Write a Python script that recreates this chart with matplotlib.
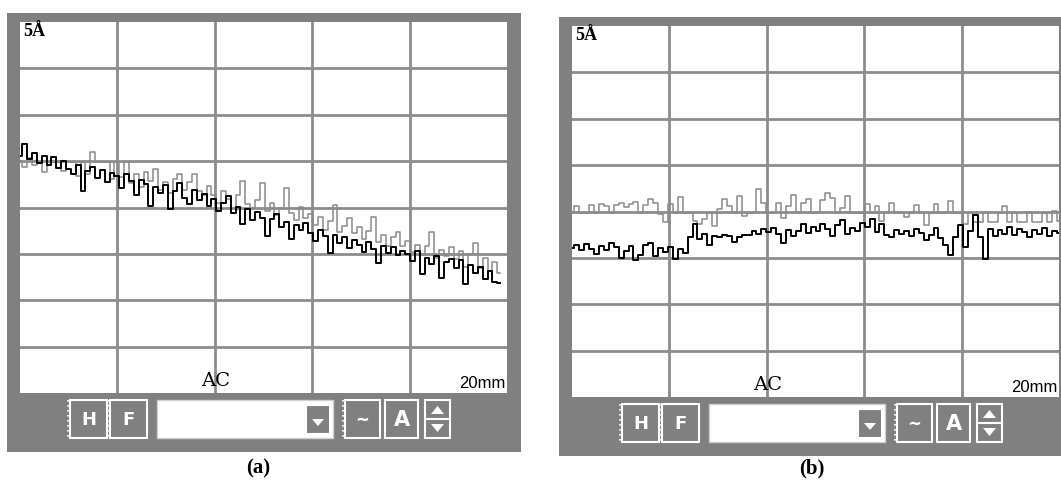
import matplotlib
matplotlib.use('Agg')
import matplotlib.pyplot as plt
from matplotlib.patches import Rectangle, Polygon
import numpy as np

# Canvas size in pixels (dpi 100).
W, H = 1061, 493

# Screen scale: 5 columns x 8 rows, y in Angstrom (5 per row), x in scan units.
X_MAX = 20
Y_MAX = 40

# Panel (a): profile sloping downwards, trace ends before the right edge.
a_x_end = 19.7
a_black = [25.6, 26.8, 25.2, 25.9, 24.8, 25.5, 24.6, 25.4, 24.3, 25.0,
           24.2, 23.6, 24.6, 21.8, 23.9, 24.4, 23.2, 24.0, 22.8, 23.7,
           23.4, 22.1, 23.6, 22.9, 21.4, 23.0, 22.5, 20.2, 22.2, 21.6,
           22.4, 19.8, 21.8, 22.6, 21.0, 20.4, 21.9, 20.8, 21.5, 20.2,
           20.9, 19.6, 20.5, 21.2, 19.4, 20.1, 18.2, 19.8, 18.6, 19.5,
           18.9, 16.9, 18.8, 19.3, 17.9, 18.4, 16.6, 18.1, 17.6, 18.3,
           17.3, 16.4, 17.6, 16.9, 15.1, 17.0, 16.2, 16.8, 15.6, 16.5,
           16.0, 15.2, 16.3, 15.5, 14.0, 15.9, 15.1, 15.7, 14.9, 15.3,
           15.0, 14.2, 15.3, 12.8, 14.6, 13.9, 14.8, 12.4, 14.1, 14.4,
           13.5, 14.3, 11.8, 13.8, 12.9, 13.6, 12.3, 13.1, 12.0, 11.9]
a_gray = [25.0, 24.4, 25.3, 24.6, 24.9, 23.8, 24.9, 24.9, 24.9, 23.9,
          24.9, 24.9, 23.4, 24.9, 23.6, 26.0, 24.9, 24.9, 24.9, 23.1,
          24.9, 23.3, 24.9, 22.6, 23.6, 22.2, 23.8, 22.9, 24.1, 21.9,
          22.8, 21.6, 23.1, 23.6, 21.9, 22.7, 23.6, 21.8, 21.4, 22.3,
          21.4, 20.5, 21.8, 20.9, 20.0, 21.3, 22.9, 20.4, 19.9, 20.8,
          22.6, 19.6, 20.5, 19.2, 19.9, 22.1, 19.4, 18.7, 20.1, 18.9,
          19.3, 18.1, 19.0, 17.6, 18.5, 20.3, 17.4, 18.0, 18.9, 17.2,
          17.9, 16.6, 17.5, 19.0, 16.3, 17.0, 15.9, 16.8, 17.4, 15.9,
          16.4, 15.2, 16.0, 14.9, 15.9, 17.4, 14.6, 15.4, 14.8, 15.7,
          14.4, 15.3, 13.6, 15.0, 16.2, 13.5, 14.6, 13.2, 14.1, 12.9]

# Panel (b): flat profile across the whole scan.
b_x_end = 20.0
b_black = [16.1, 16.4, 15.9, 16.5, 16.0, 15.4, 16.3, 15.8, 16.6, 16.2,
           15.0, 15.7, 16.3, 14.8, 15.3, 16.4, 16.6, 15.2, 16.1, 15.6,
           16.2, 14.9, 16.0, 15.5, 17.2, 18.6, 17.0, 17.6, 16.4, 17.4,
           17.2, 17.5, 17.4, 16.7, 17.3, 17.5, 17.5, 17.9, 17.6, 18.1,
           17.8, 18.2, 17.6, 16.6, 18.0, 17.4, 17.9, 18.6, 17.7, 18.3,
           17.9, 18.7, 18.1, 17.4, 18.5, 19.1, 17.6, 18.2, 17.9, 18.8,
           18.3, 19.2, 17.8, 18.6, 17.5, 17.3, 18.0, 17.6, 17.9, 17.4,
           18.1, 17.7, 16.9, 17.5, 18.2, 17.1, 16.4, 15.3, 17.3, 18.5,
           16.2, 17.9, 19.6, 17.2, 14.9, 18.1, 17.4, 18.0, 17.6, 18.3,
           17.5, 18.1, 17.8, 17.2, 18.0, 17.6, 18.2, 17.4, 17.9, 17.7]
b_gray = [19.8, 20.6, 19.8, 19.8, 20.7, 19.8, 20.8, 20.6, 19.8, 20.7,
          20.9, 20.5, 20.8, 21.0, 19.8, 20.7, 21.3, 20.9, 19.7, 18.9,
          20.8, 19.8, 21.6, 19.8, 19.8, 19.0, 18.7, 19.2, 19.8, 18.4,
          20.3, 21.4, 20.6, 19.8, 21.7, 19.5, 19.8, 19.8, 22.4, 20.9,
          19.8, 19.8, 20.9, 19.3, 20.6, 21.8, 19.8, 20.9, 21.4, 19.8,
          19.8, 21.2, 22.0, 21.5, 19.8, 20.4, 21.7, 19.8, 19.8, 19.8,
          20.8, 19.8, 20.6, 19.0, 19.8, 20.9, 19.8, 19.8, 19.4, 19.8,
          20.7, 19.8, 18.5, 19.8, 20.8, 19.8, 19.8, 21.1, 19.8, 19.8,
          18.6, 19.8, 18.9, 18.9, 19.8, 18.9, 18.9, 19.8, 20.6, 18.9,
          19.8, 18.9, 18.9, 20.0, 18.9, 18.9, 19.8, 18.9, 20.1, 19.0]

scale_label = '5Å'
mode_label = 'AC'
range_label = '20mm'
panel_labels = ['(a)', '(b)']

FRAME = '#808080'
GRID = '#8c8c8c'
TRACE_GRAY = '#8a8a8a'


def button(ax, x0, x1, y0, y1, text=None, fs=12):
    ax.add_patch(Rectangle((x0, y0), x1 - x0, y1 - y0, facecolor=FRAME,
                           edgecolor='white', lw=1.5, zorder=3))
    if text:
        ax.text((x0 + x1) / 2, (y0 + y1) / 2 + 1, text, color='white',
                fontsize=fs, fontweight='bold', ha='center', va='center',
                family='DejaVu Sans', zorder=4)


def grip(ax, x, y0, y1):
    ax.plot([x, x], [y0, y1], color='white', lw=1.2, ls=(0, (1, 2)), zorder=3)


def draw_panel(bg, L, T, black, gray, x_end, label, label_x):
    B = T + 371
    # Gray window frame.
    bg.add_patch(Rectangle((L - 13, T - 9), 487 + 27, 371 + 68,
                           facecolor=FRAME, edgecolor='none', zorder=1))

    # Toolbar below the screen.
    y0, y1 = B + 7, B + 45
    grip(bg, L + 48, y0, y1)
    button(bg, L + 50, L + 87, y0, y1, 'H', 13)
    grip(bg, L + 88, y0, y1)
    button(bg, L + 90, L + 127, y0, y1, 'F', 13)
    bg.add_patch(Rectangle((L + 137, y0), 176, y1 - y0, facecolor='white',
                           edgecolor='#d0d0d0', lw=1, zorder=3))
    button(bg, L + 286, L + 310, y0 + 5, y1 - 4)
    bg.add_patch(Polygon([[L + 292, y0 + 19], [L + 304, y0 + 19],
                          [L + 298, y0 + 26]], closed=True,
                         facecolor='white', edgecolor='none', zorder=4))
    grip(bg, L + 323, y0, y1)
    button(bg, L + 325, L + 360, y0, y1, '~', 12)
    button(bg, L + 365, L + 398, y0, y1, 'A', 15)
    button(bg, L + 405, L + 430, y0, y1)
    bg.plot([L + 405, L + 430], [y0 + 19, y0 + 19], color='white', lw=1.5,
            zorder=4)
    bg.add_patch(Polygon([[L + 411, y0 + 14], [L + 424, y0 + 14],
                          [L + 417.5, y0 + 6]], closed=True,
                         facecolor='white', edgecolor='none', zorder=4))
    bg.add_patch(Polygon([[L + 411, y0 + 24], [L + 424, y0 + 24],
                          [L + 417.5, y0 + 32]], closed=True,
                         facecolor='white', edgecolor='none', zorder=4))

    bg.text(label_x, 468, label, fontsize=15, fontweight='bold',
            family='Liberation Serif', ha='center', va='center')

    # Screen with grid and the two traces.
    ax = fig.add_axes([L / W, 1 - B / H, 487 / W, 371 / H], zorder=5)
    ax.set_xlim(0, X_MAX)
    ax.set_ylim(0, Y_MAX)
    ax.set_facecolor('white')
    for s in ax.spines.values():
        s.set_visible(False)
    ax.set_xticks([])
    ax.set_yticks([])
    for gx in np.arange(4, X_MAX, 4):
        ax.axvline(gx, color=GRID, lw=2, zorder=1)
    for gy in np.arange(5, Y_MAX, 5):
        ax.axhline(gy, color=GRID, lw=2, zorder=1)

    xs = np.linspace(0, x_end, len(black))
    ax.plot(xs, gray, color=TRACE_GRAY, lw=1.1, drawstyle='steps-mid', zorder=2)
    ax.plot(xs, black, color='black', lw=1.4, drawstyle='steps-mid', zorder=3)

    ax.text(0.006, 0.997, scale_label, transform=ax.transAxes, fontsize=13,
            fontweight='bold', family='Liberation Serif', ha='left', va='top')
    ax.text(8.05, 0.3, mode_label, fontsize=14, family='DejaVu Serif',
            ha='center', va='bottom')
    ax.text(0.996, 0.006, range_label, transform=ax.transAxes, fontsize=12,
            family='Liberation Sans', ha='right', va='bottom')


fig = plt.figure(figsize=(W / 100, H / 100), dpi=100)
bg = fig.add_axes([0, 0, 1, 1])
bg.set_xlim(0, W)
bg.set_ylim(H, 0)
bg.axis('off')

draw_panel(bg, 20, 22, a_black, a_gray, a_x_end, panel_labels[0], 258)
draw_panel(bg, 572, 26, b_black, b_gray, b_x_end, panel_labels[1], 812)

fig.savefig('out.png', dpi=100, facecolor='white')
